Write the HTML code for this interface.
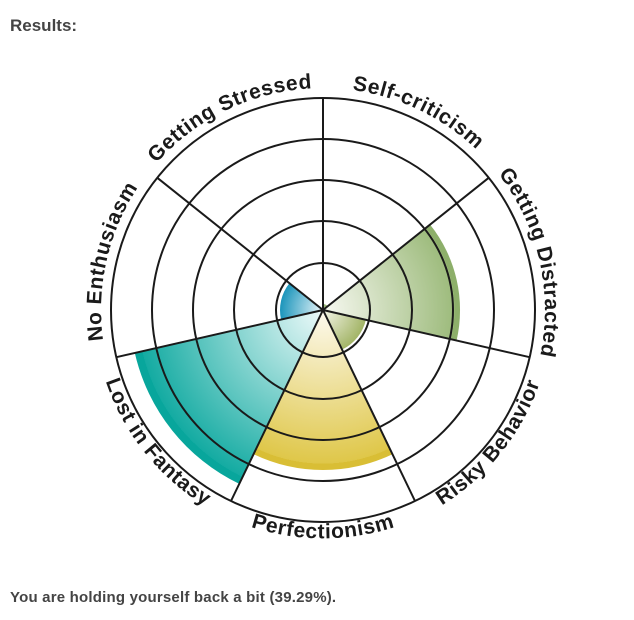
<!DOCTYPE html>
<html><head><meta charset="utf-8"><style>
body{margin:0;background:#fff;width:634px;height:620px;overflow:hidden;font-family:"Liberation Sans",sans-serif;}
.t{position:absolute;left:10px;font-weight:bold;color:#444;}
</style></head><body>
<div class="t" style="top:16px;font-size:17px;">Results:</div>
<div class="t" style="top:589px;font-size:15px;letter-spacing:0.2px;">You are holding yourself back a bit (39.29%).</div>
<svg width="634" height="620" style="position:absolute;left:0;top:0" xmlns="http://www.w3.org/2000/svg">
<defs>
<radialGradient id="gG" gradientUnits="userSpaceOnUse" cx="323" cy="310" r="137"><stop offset="0" stop-color="#f8f9f2"/><stop offset="0.96" stop-color="#9dbb7c"/><stop offset="0.96" stop-color="#8daf6a"/><stop offset="1" stop-color="#8daf6a"/></radialGradient>
<radialGradient id="gY" gradientUnits="userSpaceOnUse" cx="323" cy="310" r="160"><stop offset="0" stop-color="#fdfaf0"/><stop offset="0.96" stop-color="#dfc749"/><stop offset="0.96" stop-color="#d9be35"/><stop offset="1" stop-color="#d9be35"/></radialGradient>
<radialGradient id="gT" gradientUnits="userSpaceOnUse" cx="323" cy="310" r="193"><stop offset="0" stop-color="#eefafa"/><stop offset="0.96" stop-color="#14aba2"/><stop offset="0.96" stop-color="#08a69c"/><stop offset="1" stop-color="#08a69c"/></radialGradient>
<radialGradient id="gB" gradientUnits="userSpaceOnUse" cx="323" cy="310" r="43"><stop offset="0" stop-color="#eaf6fa"/><stop offset="1" stop-color="#1b95bb"/></radialGradient>
<radialGradient id="gO" gradientUnits="userSpaceOnUse" cx="323" cy="310" r="44"><stop offset="0" stop-color="#f5f6ea"/><stop offset="1" stop-color="#a2b466"/></radialGradient>
<path id="top" d="M153,167.3 A222,222 0 0 1 493,167.3" fill="none"/>
<path id="bot" d="M146.8,457.8 A233,233 0 0 0 499.2,457.8" fill="none"/>
</defs>
<path d="M323,310 L430.1,224.6 A137,137 0 0 1 456.6,340.5 Z" fill="url(#gG)"/>
<path d="M323,310 L365.9,319.8 A44,44 0 0 1 342.1,349.6 Z" fill="url(#gO)"/>
<path d="M323,310 L392.4,454.2 A160,160 0 0 1 253.6,454.2 Z" fill="url(#gY)"/>
<path d="M323,310 L239.3,483.9 A193,193 0 0 1 134.8,352.9 Z" fill="url(#gT)"/>
<path d="M323,310 L281.1,319.6 A43,43 0 0 1 289.4,283.2 Z" fill="url(#gB)"/>
<path d="M323,310 L323,304 A6,6 0 0 1 327.7,306.3 Z" fill="#9dbb7c"/>
<g fill="none" stroke="#1a1a1a" stroke-width="2">
<circle cx="323" cy="310" r="47"/><circle cx="323" cy="310" r="89"/><circle cx="323" cy="310" r="130"/><circle cx="323" cy="310" r="171"/><circle cx="323" cy="310" r="212"/>
<path d="M323,310L323,98M323,310L488.7,177.8M323,310L529.7,357.2M323,310L415,501M323,310L231,501M323,310L116.3,357.2M323,310L157.3,177.8"/>
</g>
<g font-family="Liberation Sans, sans-serif" font-weight="bold" font-size="21" letter-spacing="0.6" fill="#1a1a1a" text-anchor="middle">
<g transform="rotate(-25.7 323 310)"><text><textPath href="#top" startOffset="50%">Getting Stressed</textPath></text></g>
<g transform="rotate(25.7 323 310)"><text><textPath href="#top" startOffset="50%">Self-criticism</textPath></text></g>
<g transform="rotate(77.1 323 310)"><text><textPath href="#top" startOffset="50%">Getting Distracted</textPath></text></g>
<g transform="rotate(-77.1 323 310)"><text><textPath href="#top" startOffset="50%">No Enthusiasm</textPath></text></g>
<g transform="rotate(-51.4 323 310)"><text><textPath href="#bot" startOffset="50%">Risky Behavior</textPath></text></g>
<g><text><textPath href="#bot" startOffset="50%">Perfectionism</textPath></text></g>
<g transform="rotate(51.4 323 310)"><text><textPath href="#bot" startOffset="50%">Lost in Fantasy</textPath></text></g>
</g>
</svg>
</body></html>
